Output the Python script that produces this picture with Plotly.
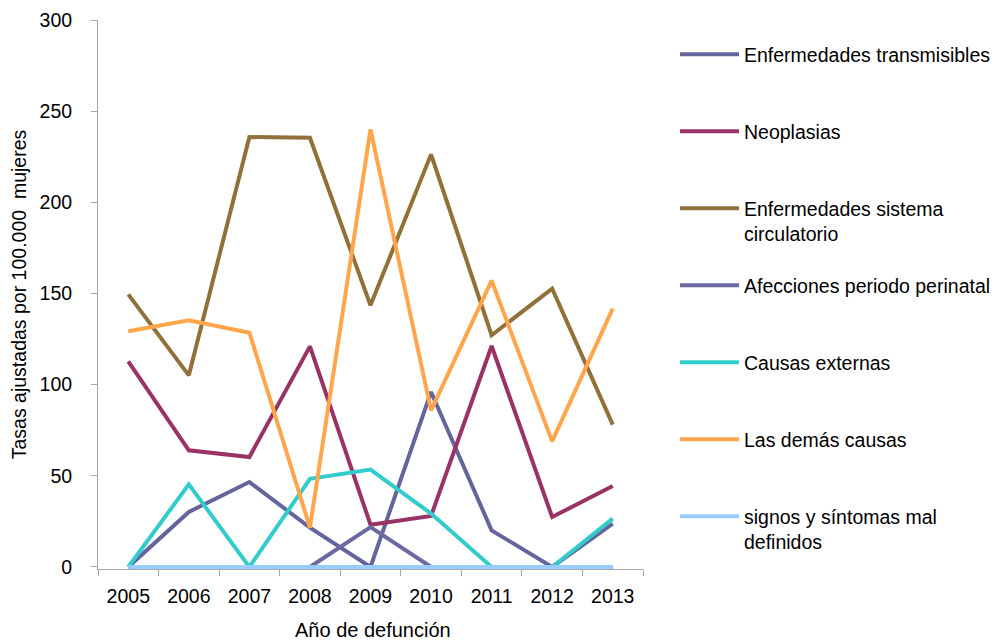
import plotly.graph_objects as go

# Adjusted mortality rates for women per 100,000, by cause group
years = ["2005", "2006", "2007", "2008", "2009", "2010", "2011", "2012", "2013"]

transmisibles = [0, 30.2, 46.6, 21.6, 0, 96.0, 20.1, 0, 23.8]
neoplasias = [112.8, 64.0, 60.3, 121.0, 23.2, 28.0, 121.2, 27.4, 44.4]
circulatorio = [149.5, 105.1, 235.8, 235.4, 143.5, 226.3, 127.1, 152.7, 78.1]
perinatal = [0, 0, 0, 0, 21.9, 0, 0, 0, 0]
externas = [0, 45.3, 0, 48.4, 53.4, 29.3, 0, 0, 26.5]
demas = [129.3, 135.3, 128.5, 21.6, 240.0, 85.9, 157.1, 68.9, 141.7]
signos = [0, 0, 0, 0, 0, 0, 0, 0, 0]

series_names = [
    "Enfermedades transmisibles",
    "Neoplasias",
    "Enfermedades sistema<br>circulatorio",
    "Afecciones periodo perinatal",
    "Causas externas",
    "Las demás causas",
    "signos y síntomas mal<br>definidos",
]
series_values = [transmisibles, neoplasias, circulatorio, perinatal, externas, demas, signos]
series_colors = ["#64659c", "#993366", "#917139", "#6b69a2", "#33cccc", "#ffa64d", "#99ccff"]

FONT = "Liberation Sans, Arial, sans-serif"
AXIS_GREY = "#a6a6a6"

# a sliver below zero keeps the full width of lines lying on y = 0 visible
L, R, T, B = 98, 352, 20, 75
PW, PH = 995 - L - R, 644 - T - B
Y_RANGE = [-1.1, 300]

fig = go.Figure()
for i, (name, vals, color) in enumerate(zip(series_names, series_values, series_colors)):
    # every legend entry takes two text lines so the entries are evenly spaced
    label = name if "<br>" in name else name + "<br> "
    fig.add_trace(go.Scatter(
        x=years, y=vals, mode="lines", name=label,
        line=dict(color=color, width=4),
        legendgroup=f"g{i}",
        cliponaxis=False,
    ))

fig.update_layout(
    width=995, height=644,
    margin=dict(l=L, r=R, t=T, b=B, autoexpand=False),
    paper_bgcolor="white", plot_bgcolor="white",
    font=dict(family=FONT, size=19.5, color="black"),
    showlegend=True,
    legend=dict(
        x=(675 - L) / PW, y=(644 - B - 35) / PH, xanchor="left", yanchor="top",
        valign="top", tracegroupgap=23.3, itemwidth=59,
        font=dict(family=FONT, size=19.5, color="black"),
        bgcolor="rgba(0,0,0,0)",
    ),
    annotations=[dict(
        text="Año de defunción", xref="paper", yref="paper",
        x=(373 - L) / PW, y=(644 - B - 630) / PH, xanchor="center", yanchor="middle",
        showarrow=False, font=dict(family=FONT, size=20, color="black"),
    )],
)

fig.update_xaxes(
    type="category", range=[-0.5, 8.5],
    showline=True, linecolor=AXIS_GREY, linewidth=1,
    ticks="outside", tickson="boundaries", ticklen=6, tickcolor=AXIS_GREY,
    ticklabelstandoff=10,
    showgrid=False, zeroline=False, layer="below traces",
    tickfont=dict(family=FONT, size=19.5, color="black"),
)
fig.update_yaxes(
    range=Y_RANGE, tickvals=[0, 50, 100, 150, 200, 250, 300],
    showline=True, linecolor=AXIS_GREY, linewidth=1,
    ticks="outside", ticklen=6, tickcolor=AXIS_GREY,
    ticklabelstandoff=15,
    showgrid=False, zeroline=False, layer="below traces",
    tickfont=dict(family=FONT, size=19.5, color="black"),
    title=dict(text="Tasas ajustadas por 100.000\u00a0 mujeres",
               font=dict(family=FONT, size=19.5, color="black"), standoff=7),
)

fig.write_html("out.html")
